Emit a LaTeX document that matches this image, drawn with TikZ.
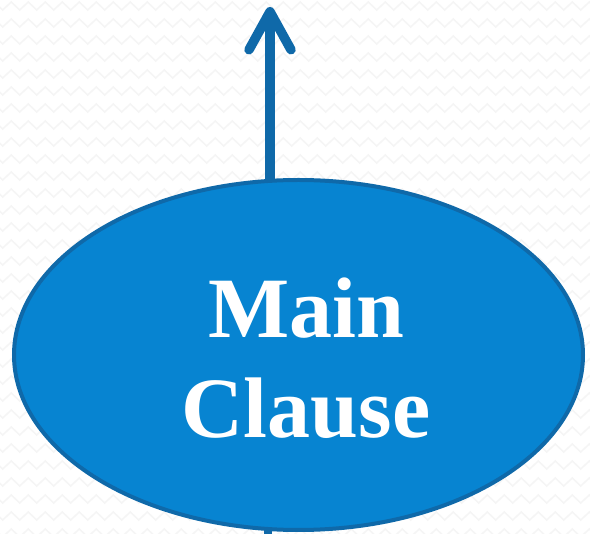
\documentclass[tikz,border=0pt]{standalone}
\usepackage{fontspec}
\setmainfont{Liberation Serif}
\usetikzlibrary{shapes.geometric,arrows.meta,decorations.pathmorphing}

\definecolor{clausefill}{HTML}{0784D1}
\definecolor{clauseline}{HTML}{0F69A9}

\begin{document}
\begin{tikzpicture}[x=1pt,y=-1pt,
    clausebox/.style={ellipse, fill=clausefill, draw=clauseline, line width=4pt,
        minimum width=569pt, minimum height=350pt, inner sep=0pt},
    upline/.style={draw=clauseline, line width=9.5pt,
        -{Straight Barb[round,length=38pt,width=42pt]}},
    zig/.style={black!4, line width=1.5pt, decorate,
        decoration={zigzag, segment length=17pt, amplitude=4pt}}]
    \useasboundingbox (0,0) rectangle (590,534);
    \fill[white] (0,0) rectangle (590,534);
    % faint zigzag backdrop
    \foreach \y in {6,23,...,534}
        \draw[zig] (-10,\y) -- (600,\y);
    \coordinate (top) at (270,7);
    \coordinate (down) at (268,545);
    \draw[clauseline, line width=8pt] (268,500) -- (down);
    \draw[upline] (270,200) -- (top);
    \node[clausebox] (clause) at (298.5,355) {};
    \node[text=white, align=center, font=\bfseries\fontsize{86}{100}\selectfont]
        (label) at (306,358) {Main\\Clause};
\end{tikzpicture}
\end{document}
